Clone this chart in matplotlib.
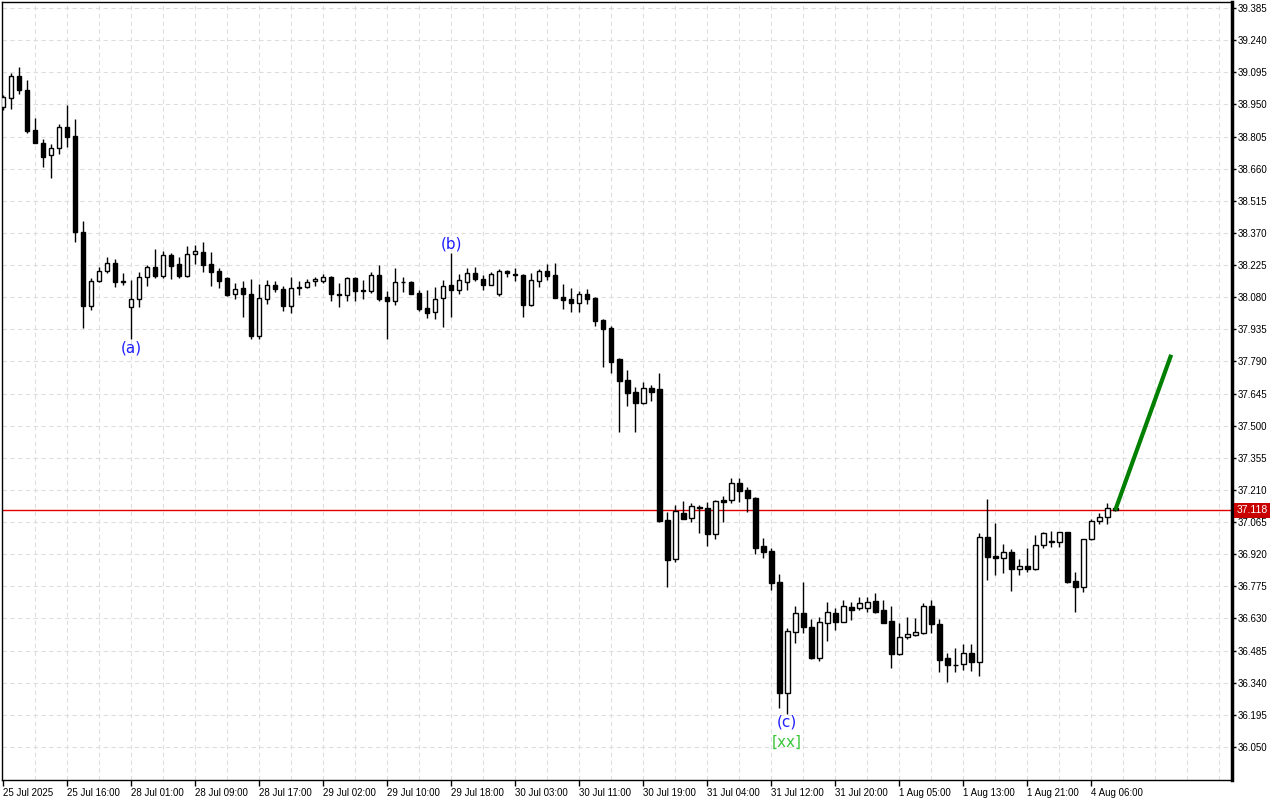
import numpy as np
import matplotlib.pyplot as plt

# H1 bars
opens = [38.938, 38.977, 39.078, 39.015, 38.834, 38.774, 38.722, 38.752, 38.847, 38.807,
         38.373, 38.042, 38.153, 38.199, 38.233, 38.150, 38.034, 38.070, 38.170, 38.215,
         38.177, 38.270, 38.230, 38.177, 38.273, 38.284, 38.230, 38.197, 38.165, 38.093,
         38.120, 38.093, 37.906, 38.070, 38.134, 38.116, 38.042, 38.123, 38.125, 38.152,
         38.154, 38.170, 38.094, 38.088, 38.165, 38.111, 38.109, 38.180, 38.079, 38.063,
         38.147, 38.147, 38.099, 38.030, 38.012, 38.075, 38.135, 38.112, 38.150, 38.190,
         38.162, 38.136, 38.093, 38.198, 38.183, 38.180, 38.043, 38.152, 38.198, 38.180,
         38.081, 38.070, 38.055, 38.094, 38.078, 37.978, 37.941, 37.802, 37.706, 37.652,
         37.604, 37.670, 37.664, 37.073, 36.897, 37.105, 37.082, 37.133, 37.127, 37.010,
         37.163, 37.163, 37.240, 37.210, 37.175, 36.957, 36.935, 36.795, 36.292, 36.571,
         36.653, 36.590, 36.450, 36.611, 36.653, 36.616, 36.680, 36.676, 36.679, 36.709,
         36.668, 36.619, 36.468, 36.545, 36.557, 36.563, 36.685, 36.604, 36.450, 36.419,
         36.423, 36.473, 36.435, 36.999, 36.911, 36.904, 36.929, 36.855, 36.868, 36.853,
         36.960, 36.977, 36.977, 37.019, 36.799, 36.774, 36.987, 37.071, 37.089, 37.127]
highs = [38.992, 39.093, 39.119, 39.060, 38.887, 38.792, 38.770, 38.861, 38.947, 38.884,
         38.424, 38.165, 38.218, 38.260, 38.252, 38.188, 38.158, 38.192, 38.225, 38.297,
         38.288, 38.279, 38.260, 38.311, 38.315, 38.329, 38.284, 38.210, 38.171, 38.143,
         38.153, 38.162, 38.139, 38.158, 38.153, 38.129, 38.170, 38.152, 38.162, 38.170,
         38.183, 38.176, 38.143, 38.172, 38.172, 38.158, 38.192, 38.224, 38.108, 38.213,
         38.170, 38.154, 38.112, 38.112, 38.127, 38.158, 38.281, 38.183, 38.210, 38.214,
         38.180, 38.194, 38.207, 38.203, 38.210, 38.185, 38.190, 38.207, 38.230, 38.233,
         38.139, 38.123, 38.107, 38.117, 38.081, 37.981, 37.950, 37.804, 37.751, 37.676,
         37.696, 37.684, 37.737, 37.109, 37.141, 37.160, 37.150, 37.141, 37.157, 37.165,
         37.183, 37.265, 37.263, 37.222, 37.178, 36.992, 36.950, 36.829, 36.589, 36.686,
         36.796, 36.626, 36.635, 36.703, 36.679, 36.713, 36.703, 36.726, 36.726, 36.744,
         36.713, 36.686, 36.608, 36.635, 36.631, 36.699, 36.713, 36.626, 36.476, 36.496,
         36.515, 36.515, 37.014, 37.168, 37.060, 36.966, 36.942, 36.897, 36.947, 37.007,
         37.019, 37.026, 37.022, 37.020, 36.838, 36.987, 37.079, 37.105, 37.150, 37.128]
lows = [38.925, 38.928, 38.997, 38.820, 38.774, 38.666, 38.616, 38.725, 38.756, 38.330,
        37.940, 38.022, 38.150, 38.190, 38.127, 38.135, 37.890, 38.037, 38.130, 38.165,
        38.168, 38.162, 38.168, 38.172, 38.230, 38.194, 38.132, 38.120, 38.087, 38.072,
        37.992, 37.890, 37.891, 38.051, 38.102, 38.019, 38.010, 38.091, 38.121, 38.132,
        38.143, 38.064, 38.034, 38.064, 38.064, 38.072, 38.097, 38.064, 37.891, 38.043,
        38.102, 38.093, 38.019, 37.987, 37.983, 37.947, 37.992, 38.093, 38.114, 38.153,
        38.112, 38.136, 38.085, 38.170, 38.154, 37.992, 38.040, 38.127, 38.158, 38.074,
        38.027, 38.014, 38.014, 38.049, 37.950, 37.766, 37.739, 37.473, 37.590, 37.473,
        37.598, 37.613, 37.067, 36.774, 36.884, 37.078, 37.067, 37.014, 36.959, 36.990,
        37.067, 37.153, 37.157, 37.112, 36.920, 36.904, 36.759, 36.227, 36.198, 36.521,
        36.563, 36.447, 36.438, 36.528, 36.578, 36.614, 36.623, 36.667, 36.659, 36.653,
        36.608, 36.408, 36.465, 36.537, 36.552, 36.559, 36.563, 36.390, 36.345, 36.390,
        36.398, 36.394, 36.372, 36.804, 36.826, 36.834, 36.755, 36.826, 36.841, 36.849,
        36.950, 36.954, 36.954, 36.792, 36.661, 36.751, 36.984, 37.055, 37.055, 37.116]
closes = [38.983, 39.078, 39.015, 38.831, 38.777, 38.714, 38.752, 38.847, 38.801, 38.375,
          38.042, 38.153, 38.199, 38.233, 38.150, 38.153, 38.072, 38.170, 38.215, 38.177,
          38.270, 38.222, 38.177, 38.275, 38.288, 38.227, 38.195, 38.154, 38.090, 38.116,
          38.093, 37.906, 38.075, 38.134, 38.116, 38.042, 38.120, 38.125, 38.147, 38.161,
          38.170, 38.093, 38.090, 38.165, 38.107, 38.108, 38.180, 38.073, 38.061, 38.147,
          38.150, 38.093, 38.028, 38.010, 38.070, 38.132, 38.112, 38.158, 38.190, 38.163,
          38.136, 38.185, 38.198, 38.190, 38.180, 38.046, 38.158, 38.198, 38.177, 38.078,
          38.069, 38.055, 38.096, 38.073, 37.974, 37.938, 37.789, 37.702, 37.649, 37.604,
          37.669, 37.651, 37.070, 36.894, 37.115, 37.080, 37.138, 37.127, 37.010, 37.159,
          37.157, 37.240, 37.207, 37.175, 36.950, 36.931, 36.792, 36.292, 36.574, 36.653,
          36.593, 36.450, 36.613, 36.658, 36.616, 36.685, 36.670, 36.699, 36.706, 36.659,
          36.611, 36.471, 36.545, 36.560, 36.568, 36.685, 36.604, 36.443, 36.419, 36.421,
          36.473, 36.435, 36.999, 36.909, 36.902, 36.929, 36.855, 36.868, 36.855, 36.960,
          37.014, 36.978, 37.019, 36.796, 36.774, 36.987, 37.071, 37.089, 37.130, 37.118]

time_labels = ['25 Jul 2025', '25 Jul 16:00', '28 Jul 01:00', '28 Jul 09:00', '28 Jul 17:00',
               '29 Jul 02:00', '29 Jul 10:00', '29 Jul 18:00', '30 Jul 03:00', '30 Jul 11:00',
               '30 Jul 19:00', '31 Jul 04:00', '31 Jul 12:00', '31 Jul 20:00', '1 Aug 05:00',
               '1 Aug 13:00', '1 Aug 21:00', '4 Aug 06:00']

last_price = 37.118
forecast_x = [139, 146]
forecast_y = [37.118, 37.82]

# wave labels: text, bar index, price, colour
wave_labels = [('(a)', 16, 37.851, '#1f1fff'),
               ('(b)', 56, 38.320, '#1f1fff'),
               ('(c)', 98, 36.163, '#1f1fff'),
               ('[xx]', 98, 36.073, '#3cc83c')]

price_ticks = np.round(np.arange(36.050, 39.386, 0.145), 3)

fig = plt.figure(figsize=(12.8, 8), dpi=100)
ax = fig.add_axes([2 / 1280, 20 / 800, 1230 / 1280, 778 / 800])

x = np.arange(len(opens))
o = np.array(opens)
h = np.array(highs)
l = np.array(lows)
c = np.array(closes)
up = c >= o

ax.vlines(x, l, h, color='black', linewidth=1, zorder=2)
ax.bar(x[up], c[up] - o[up], bottom=o[up], width=0.6, facecolor='white',
       edgecolor='black', linewidth=1, zorder=3)
ax.bar(x[~up], o[~up] - c[~up], bottom=c[~up], width=0.6, facecolor='black',
       edgecolor='black', linewidth=1, zorder=3)

ax.axhline(last_price, color='#e00000', linewidth=1, zorder=1)
ax.plot(forecast_x, forecast_y, color='#008000', linewidth=3, zorder=4,
        solid_capstyle='butt')

for txt, xi, yi, col in wave_labels:
    ax.text(xi, yi, txt, color=col, fontsize=11, ha='center', va='center')

ax.set_xlim(-0.125, 153.6)
ax.set_ylim(35.901, 39.412)

# grid
for gx in range(4, 154, 4):
    ax.axvline(gx, color='#dedede', linestyle=(0, (4, 3)), linewidth=0.8, zorder=0)
for gy in price_ticks:
    ax.axhline(gy, color='#dedede', linestyle=(0, (4, 3)), linewidth=0.8, zorder=0)

ax.yaxis.tick_right()
ax.set_yticks(price_ticks)
ax.set_yticklabels(['%.3f' % t for t in price_ticks], fontsize=7, family='Liberation Sans')
ax.tick_params(axis='y', length=3, pad=1, width=1)

ax.set_xticks(np.arange(0, 8 * len(time_labels), 8))
ax.set_xticklabels(time_labels, fontsize=7, ha='left', family='Liberation Sans')
ax.tick_params(axis='x', length=4, pad=2, width=1)

for side in ['left', 'top', 'bottom']:
    ax.spines[side].set_linewidth(1)
ax.spines['right'].set_linewidth(2.5)

ax.text(1.0035, last_price, '%.3f' % last_price, transform=ax.get_yaxis_transform(),
        fontsize=7.5, family='Liberation Sans', color='white', va='center', ha='left',
        bbox=dict(boxstyle='square,pad=0.25', facecolor='#c80000', edgecolor='none'))

fig.savefig('out.png', dpi=100, facecolor='white')
